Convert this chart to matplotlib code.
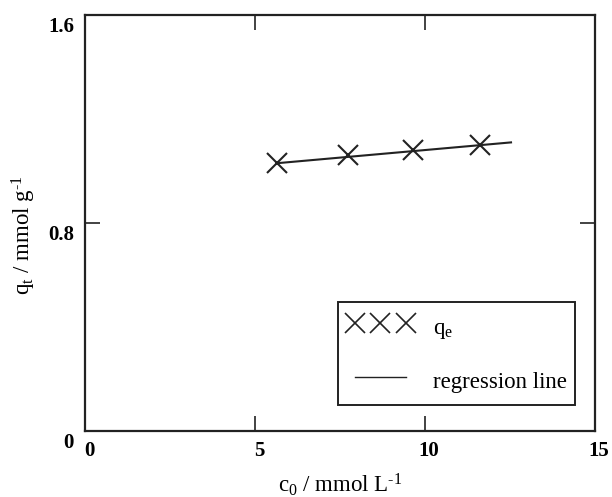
import matplotlib
matplotlib.use('Agg')
import matplotlib.pyplot as plt
import matplotlib.transforms as mtransforms

# fonts: Times-like serif everywhere, mathtext too
plt.rcParams['font.family'] = 'Liberation Serif'
plt.rcParams['mathtext.fontset'] = 'custom'
plt.rcParams['mathtext.rm'] = 'Liberation Serif'
plt.rcParams['mathtext.it'] = 'Liberation Serif:italic'

# data
c0 = [5.65, 7.74, 9.65, 11.62]          # mmol/L
qe = [1.032, 1.062, 1.081, 1.100]       # mmol/g
reg_x = [5.65, 12.53]                   # regression line ends
reg_y = [1.030, 1.110]

xticks = [0, 5, 10, 15]
yticks = [0, 0.8, 1.6]
yticklabels = ['0', '0.8', '1.6']

fig = plt.figure(figsize=(6.12, 4.97), dpi=100)
ax = fig.add_axes([85/612, 66/497, 510/612, 416/497])

ax.plot(c0, qe, 'x', color='#222222', markersize=14, markeredgewidth=1.5,
        label='q$_\\mathrm{e}$')
ax.plot(reg_x, reg_y, '-', color='#222222', lw=1.5, label='regression line')

ax.set_xlim(0, 15)
ax.set_ylim(0, 1.6)
ax.set_xticks(xticks)
ax.set_yticks(yticks)
ax.set_yticklabels(yticklabels)
ax.tick_params(direction='in', length=11, width=1.2, top=True, right=True,
               labelsize=15, colors='#222222')
ax.tick_params(axis='x', pad=7)
ax.tick_params(axis='y', pad=8)
for lab in ax.get_xticklabels() + ax.get_yticklabels():
    lab.set_fontweight('bold')
    lab.set_color('black')
# labels sit a bit off their ticks in the original
dx = mtransforms.ScaledTranslation(4/100, 0, fig.dpi_scale_trans)
dy = mtransforms.ScaledTranslation(0, -9/100, fig.dpi_scale_trans)
for lab in ax.get_xticklabels():
    lab.set_transform(lab.get_transform() + dx)
for lab in ax.get_yticklabels():
    lab.set_transform(lab.get_transform() + dy)

for s in ax.spines.values():
    s.set_linewidth(1.6)
    s.set_color('#222222')

ax.set_xlabel('c$_\\mathrm{0}$ / mmol L$^{\\mathrm{\u2010}1}$', fontsize=16.5, labelpad=8)
ax.set_ylabel('q$_\\mathrm{t}$ / mmol g$^{\\mathrm{\u2010}1}$', fontsize=16.5)
ax.yaxis.set_label_coords(-0.092, 0.47)

leg = ax.legend(loc='lower left', bbox_to_anchor=(0.496, 0.0625, 0.465, 0.25),
                mode='expand', numpoints=3, fancybox=False, edgecolor='#222222',
                framealpha=1, fontsize=16.5, borderpad=0.43, handleheight=1.58,
                labelspacing=1.08, handlelength=2.84, handletextpad=0.87,
                borderaxespad=0)
leg.get_frame().set_linewidth(1.4)
lh = leg.legend_handles
lh[0].set_markeredgewidth(1.2)
lh[1].set_linewidth(1.0)

fig.savefig('out.png', dpi=100)
